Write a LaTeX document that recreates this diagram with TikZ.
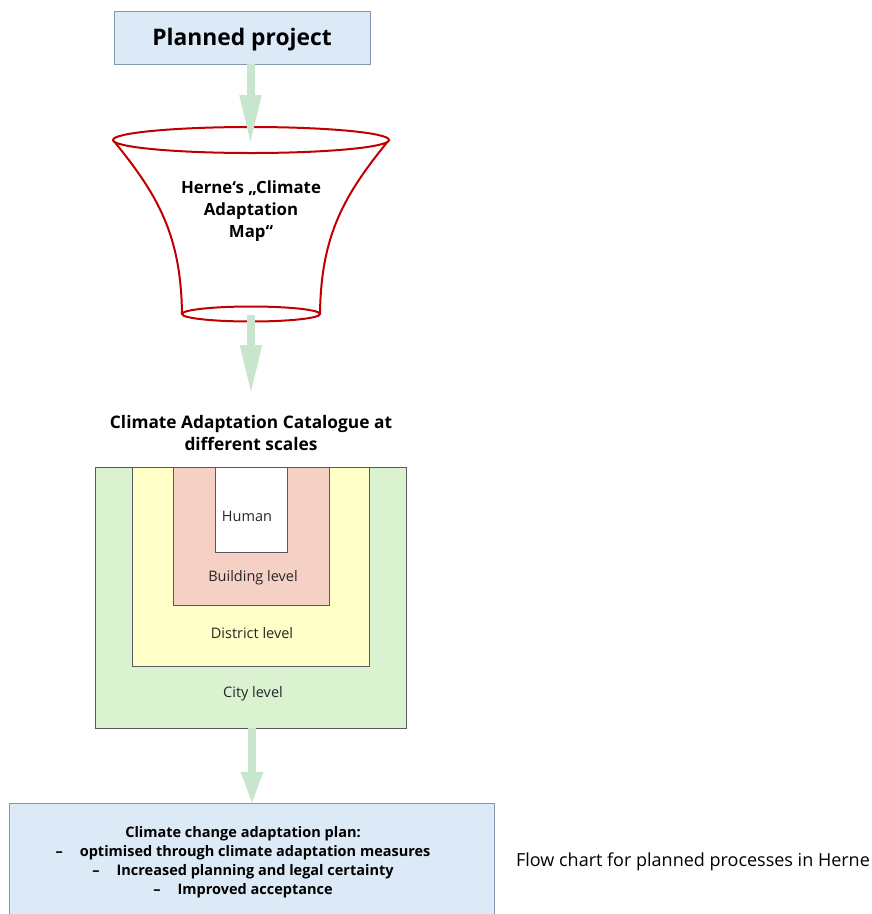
\documentclass[tikz,border=0pt]{standalone}
\usepackage{fontspec}
\setmainfont{Open Sans}
\usetikzlibrary{arrows.meta}
\definecolor{boxblue}{RGB}{220,233,246}
\definecolor{boxborder}{RGB}{132,151,176}
\definecolor{arrowgreen}{RGB}{200,230,206}
\definecolor{funnelred}{RGB}{192,0,0}
\definecolor{citygreen}{RGB}{218,242,208}
\definecolor{distyellow}{RGB}{255,255,199}
\definecolor{buildpink}{RGB}{245,208,196}
\definecolor{rectborder}{RGB}{90,90,90}
\begin{document}
\begin{tikzpicture}[x=1pt,y=-1pt,
  bluebox/.style={draw=boxborder, fill=boxblue, line width=1pt, inner sep=0pt},
  garrow/.style={draw=arrowgreen, line width=8pt},
  funnel/.style={draw=funnelred, line width=2pt},
  levelrect/.style={draw=rectborder, line width=0.8pt},
  levellabel/.style={inner sep=0pt, font=\fontsize{14.5}{16}\selectfont, text=black!85},
  boldtext/.style={inner sep=0pt, align=center, font=\fontsize{16.8}{22}\selectfont\bfseries}
]
\useasboundingbox (0,0) rectangle (872,914);

% top box
\node[bluebox, minimum width=256pt, minimum height=53pt] (pp) at (242,37.5) {};
\node[inner sep=0pt, font=\fontsize{22.8}{26}\selectfont\bfseries] (pptext) at (242,40) {Planned project};

% funnel
\coordinate (ftl) at (113,140);
\coordinate (ftr) at (389,140);
\coordinate (fbl) at (182,314);
\coordinate (fbr) at (320,314);
\path[fill=white] (ftl) .. controls (158,195) and (181,235) .. (fbl) -- (fbr)
   .. controls (321,235) and (344,195) .. (ftr) -- cycle;
\draw[funnel] (ftl) .. controls (158,195) and (181,235) .. (fbl);
\draw[funnel] (ftr) .. controls (344,195) and (321,235) .. (fbr);
\draw[funnel, fill=white] (251,314) ellipse [x radius=69, y radius=7.5];
\draw[funnel, fill=white] (251,140) ellipse [x radius=138, y radius=13];
\node[boldtext] (map) at (251,211) {Herne‘s „Climate\\Adaptation\\Map“};

% arrow 1
\coordinate (a1s) at (250.5,64);
\coordinate (a1e) at (250.5,145);
\draw[garrow, -{Triangle[width=20pt,length=50pt]}] (a1s) -- (a1e);

% arrow 2
\coordinate (a2s) at (251,315);
\coordinate (a2e) at (251,395);
\draw[garrow, -{Triangle[width=20pt,length=50pt]}] (a2s) -- (a2e);

% catalogue title
\node[boldtext, font=\fontsize{17.3}{22}\selectfont\bfseries] (cat) at (251,433) {Climate Adaptation Catalogue at\\different scales};

% nested rectangles
\draw[levelrect, fill=citygreen] (95,467) rectangle (406,728);
\draw[levelrect, fill=distyellow] (132,467) rectangle (369,666);
\draw[levelrect, fill=buildpink] (173,467) rectangle (329,605);
\draw[levelrect, fill=white] (215,467) rectangle (287,552);
\node[levellabel] (human) at (247,516) {Human};
\node[levellabel] (building) at (253,578) {Building level};
\node[levellabel] (district) at (252,633) {District level};
\node[levellabel] (city) at (253,694) {City level};

% arrow 3
\coordinate (a3s) at (252,728);
\coordinate (a3e) at (252,805);
\draw[garrow, -{Triangle[width=20pt,length=33pt]}] (a3s) -- (a3e);

% bottom box
\node[bluebox, minimum width=485pt, minimum height=140pt] (plan) at (251.5,873) {};
\node[inner sep=0pt, align=center, font=\fontsize{14.5}{19}\selectfont\bfseries] (plantext) at (243,862.5)
  {Climate change adaptation plan:\\
   –\hspace{17pt}optimised through climate adaptation measures\\
   –\hspace{17pt}Increased planning and legal certainty\\
   –\hspace{17pt}Improved acceptance};

% caption
\node[inner sep=0pt, font=\fontsize{18}{20}\selectfont] (caption) at (693,862)
  {Flow chart for planned processes in Herne};
\end{tikzpicture}
\end{document}
